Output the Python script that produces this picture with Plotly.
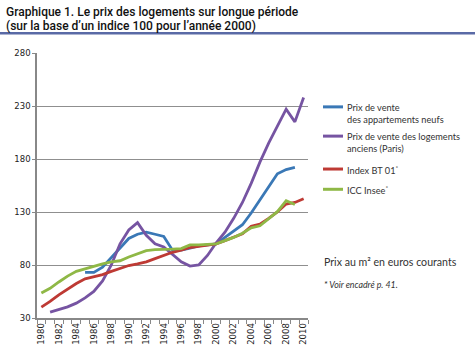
import plotly.graph_objects as go

years = list(range(1980, 2011))
neufs = [None, None, None, None, None, 73, 73, 78, 87, 97, 105, 109, 111, 109, 107,
         94, 94, 96, 98, 99, 100, 106, 112, 118, 129, 141, 154, 166, 170, 172, None]
anciens = [None, 35.5, 38, 40.5, 44, 49, 55, 65, 80, 100, 113, 120, 108, 100, 97,
           90, 83, 79, 80, 89, 101, 111, 124, 139, 157, 177, 195, 211, 227, 215, 238]
bt01 = [40.3, 45.6, 51.9, 57.5, 62.5, 67, 69, 71, 74, 77, 79.5, 81, 83, 86, 89,
        92, 94, 96.5, 97.5, 99, 100, 103, 106, 109.5, 116.5, 118.5, 124, 130, 137.5, 139, 142.5]
icc = [53.5, 58, 64, 69.5, 74, 76.5, 78.5, 81, 83, 84, 87.5, 90.5, 93.5, 94.5, 94.5,
       95, 95.5, 99, 99, 99.5, 100, 103, 106, 110, 115, 117, 124, 130.3, 140.7, 137, None]

series_names = ["Prix de vente<br>des appartements neufs",
                "Prix de vente des logements<br>anciens (Paris)",
                "Index BT 01<sup>*</sup>",
                "ICC Insee<sup>*</sup>"]
series_values = [neufs, anciens, bt01, icc]
colors = ["#3a78b6", "#7654a2", "#be3a34", "#8fb846"]

y_ticks = [30, 80, 130, 180, 230, 280]
x_tick_labels = [str(y) for y in range(1980, 2011, 2)]

title_l1 = "Graphique 1. Le prix des logements sur longue période"
title_l2 = "(sur la base d\u2019un indice 100 pour l\u2019année 2000)"
note1 = "Prix au m² en euros courants"
note2 = "* Voir encadré p. 41."

# plot area geometry (pixels)
L, R, T, B = 37, 308, 52.7, 318.3
W, H = 475, 358


def px(x):
    return (x - L) / (R - L)


def py(y):
    return (B - y) / (B - T)


fig = go.Figure()
for name, vals, c in zip(series_names, series_values, colors):
    fig.add_trace(go.Scatter(x=years, y=vals, mode="lines", name=name,
                             line=dict(color=c, width=2.8), connectgaps=False,
                             showlegend=False, hoverinfo="skip"))

fig.update_layout(
    width=W, height=H,
    margin=dict(l=L, r=W - R, t=T, b=H - B, pad=0),
    paper_bgcolor="white", plot_bgcolor="white",
    font=dict(family="DejaVu Sans", color="#222"),
    xaxis=dict(range=[1979.5, 2010.5], tickmode="array",
               tickvals=list(range(1980, 2011, 2)), ticktext=x_tick_labels,
               tickangle=-90, tickfont=dict(size=8.5, family="DejaVu Sans", color="#222"),
               showgrid=False, zeroline=False, showline=True, linecolor="#888", linewidth=1.5,
               ticks="", ticklen=0,
               minor=dict(tickmode="linear", tick0=1979.5, dtick=1, ticks="outside",
                          ticklen=4, tickcolor="#888", showgrid=False)),
    yaxis=dict(range=[30, 280], tickmode="array", tickvals=y_ticks,
               tickfont=dict(size=8.5, family="DejaVu Sans", color="#222"),
               showgrid=True, gridcolor="#8f8f8f", gridwidth=1, zeroline=False,
               showline=True, linecolor="#888", linewidth=1.5,
               ticks="outside", ticklen=3, tickcolor="#888"),
)

# header
fig.add_annotation(text=title_l1, xref="paper", yref="paper", x=px(4), y=py(3),
                   xanchor="left", yanchor="top", showarrow=False,
                   font=dict(family="Roboto", size=12, color="#111", weight=500))
fig.add_annotation(text=title_l2, xref="paper", yref="paper", x=px(4), y=py(17),
                   xanchor="left", yanchor="top", showarrow=False,
                   font=dict(family="Roboto", size=12, color="#111", weight=500))
fig.add_shape(type="line", xref="paper", yref="paper", x0=px(0), x1=px(W), y0=py(33), y1=py(33),
              line=dict(color="#5a6aa6", width=2.5))

# legend (manual)
legend_y = [106.7, 136, 169, 189.3]
for name, c, ly in zip(series_names, colors, legend_y):
    fig.add_shape(type="line", xref="paper", yref="paper", x0=px(323), x1=px(343),
                  y0=py(ly), y1=py(ly), line=dict(color=c, width=3))
    fig.add_annotation(text=name, xref="paper", yref="paper", x=px(345), y=py(ly - 7),
                       xanchor="left", yanchor="top", align="left", showarrow=False,
                       font=dict(family="Lato", size=9.2, color="#333"))

fig.add_annotation(text=note1, xref="paper", yref="paper", x=px(322), y=py(261.7),
                   xanchor="left", yanchor="middle", showarrow=False,
                   font=dict(family="Lato", size=10.6, color="#333"))
fig.add_annotation(text="<i>" + note2 + "</i>", xref="paper", yref="paper", x=px(322), y=py(285),
                   xanchor="left", yanchor="middle", showarrow=False,
                   font=dict(family="Lato", size=8.8, color="#333"))

fig.write_html("out.html", config={"displayModeBar": False},
               post_script="document.body.style.margin='0';")
